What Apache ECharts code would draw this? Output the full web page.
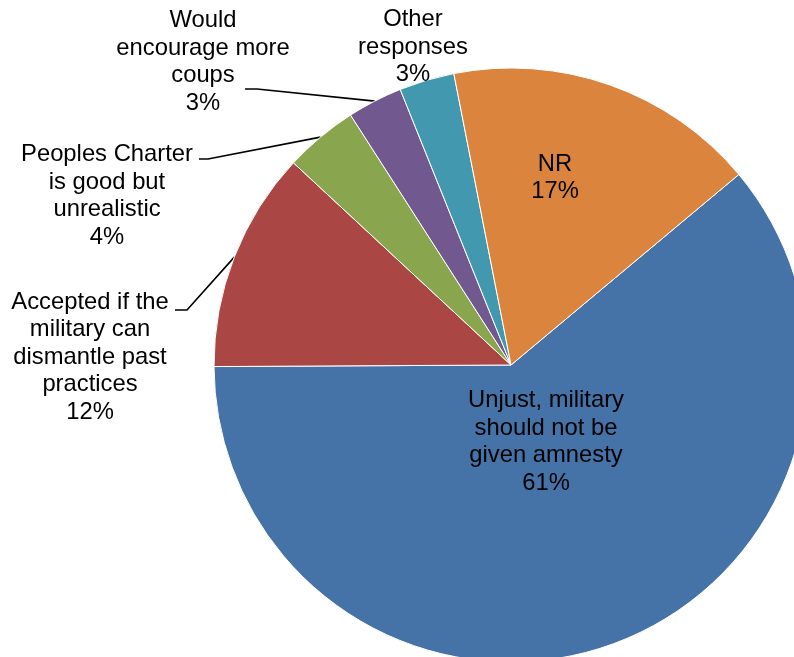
<!DOCTYPE html>
<html>
<head>
<meta charset="utf-8">
<style>
  html, body { margin: 0; padding: 0; background: #fff; }
  #chart { width: 794px; height: 657px; }
</style>
<script src="https://cdn.jsdelivr.net/npm/echarts@6/dist/echarts.min.js"></script>
</head>
<body>
<div id="chart"></div>
<script>
// Survey responses (percent)
const categories = [
  'Unjust, military\nshould not be\ngiven amnesty',
  'Accepted if the\nmilitary can\ndismantle past\npractices',
  'Peoples Charter\nis good but\nunrealistic',
  'Would\nencourage more\ncoups',
  'Other\nresponses',
  'NR'
];
const values = [61, 12, 4, 3, 3, 17];
const colors = ['#4572A7', '#AA4643', '#89A54E', '#71588F', '#4198AF', '#DB843D'];

// Pie geometry
const CX = 511, CY = 365, R = 297;
const FIRST_ANGLE = 50.1; // clockwise from 12 o'clock, where the first slice begins

// Label block centres and leader-line attachment points
const labelPos = [
  { x: 546, y: 442 },
  { x: 90, y: 357, line: [[187, 310], [175, 310]] },
  { x: 107, y: 196, line: [[208, 159], [199, 159]] },
  { x: 203, y: 62, line: [[257, 89], [245, 89]] },
  { x: 413, y: 47 },
  { x: 555, y: 178 }
];

const total = values.reduce((a, b) => a + b, 0);
function edgePoint(i) {
  let cum = 0;
  for (let k = 0; k < i; k++) cum += values[k];
  const a = (FIRST_ANGLE + (cum + values[i] / 2) / total * 360) * Math.PI / 180;
  return [CX + R * Math.sin(a), CY - R * Math.cos(a)];
}

const chart = echarts.init(document.getElementById('chart'), null, { renderer: 'canvas' });

const data = categories.map((name, i) => ({
  name: name,
  value: values[i],
  itemStyle: { color: colors[i] },
  label: { position: (i === 0 || i === 5) ? 'inside' : 'outside' },
  labelLine: { show: !!labelPos[i].line }
}));

chart.setOption({
  animation: false,
  series: [{
    type: 'pie',
    center: [CX, CY],
    radius: R,
    startAngle: 90 - FIRST_ANGLE,
    clockwise: true,
    avoidLabelOverlap: false,
    data: data,
    itemStyle: { borderColor: '#ffffff', borderWidth: 1 },
    label: {
      formatter: '{b}\n{d}%',
      color: '#000',
      fontFamily: '"Liberation Sans", Arial, sans-serif',
      fontSize: 23.8,
      lineHeight: 27.5,
      align: 'center'
    },
    labelLine: {
      show: true,
      lineStyle: { color: '#000', width: 1.6 },
      length: 10,
      length2: 10
    },
    labelLayout: function (params) {
      const p = labelPos[params.dataIndex];
      const out = { x: p.x, y: p.y, align: 'center', verticalAlign: 'middle' };
      if (p.line) {
        out.labelLinePoints = [edgePoint(params.dataIndex), p.line[0], p.line[1]];
      }
      return out;
    }
  }]
});
</script>
</body>
</html>
